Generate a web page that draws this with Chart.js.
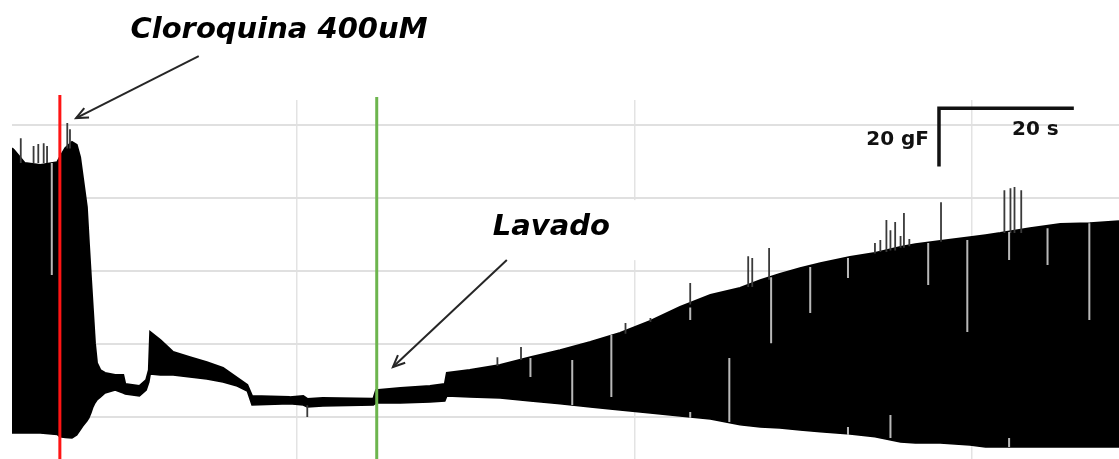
<!DOCTYPE html>
<html>
<head>
<meta charset="utf-8">
<script src="https://cdn.jsdelivr.net/npm/chart.js@4.4.1/dist/chart.umd.min.js"></script>
<style>
  html, body { margin: 0; padding: 0; background: #fff; }
  canvas { display: block; }
</style>
</head>
<body>
<canvas id="trace" width="1119" height="459"></canvas>
<script>
// Isometric contraction recording: force envelope (gF) against time (s)
const timeS = [7.7, 8.0, 9.6, 11.9, 14.4, 14.8, 15.6, 16.6, 17.3, 17.8, 18.2, 18.8, 19.1, 19.4, 19.7, 20.0,
  20.3, 20.8, 21.5, 23.0, 24.2, 24.5, 26.6, 27.6, 28.0, 28.2, 29.7, 31.6, 34.1, 36.6, 39.0, 41.1, 42.6, 43.3,
  48.9, 50.9, 51.5, 53.8, 61.3, 61.7, 65.3, 69.7, 71.9, 72.2, 75.6, 80.1, 84.6, 89.0, 93.5, 97.9, 102.4,
  106.8, 111.3, 115.7, 118.7, 121.6, 124.6, 127.6, 132.0, 135.7, 139.5, 141.7, 145.4, 149.8, 152.1, 154.3,
  158.7, 163.2, 167.6, 171.9];
const forceUpper = [92.1, 91.4, 87.0, 86.3, 87.3, 89.0, 92.1, 94.2, 93.2, 89.0, 82.2, 71.9, 59.6, 47.9, 36.6, 25.3,
  18.5, 16.1, 15.1, 14.4, 14.4, 11.3, 10.6, 12.7, 16.1, 29.1, 26.4, 22.3, 20.5, 18.8, 16.8, 13.4, 11.0, 7.2,
  6.8, 7.2, 6.2, 6.5, 6.2, 9.2, 9.9, 10.6, 11.3, 15.1, 16.1, 17.8, 20.5, 22.9, 25.7, 28.8, 32.9,
  37.7, 41.8, 44.2, 46.9, 49.0, 51.0, 52.7, 54.8, 56.2, 58.2, 59.2, 60.3, 61.6, 62.3, 63.0,
  64.7, 66.1, 66.4, 67.1];
const forceLower = [-5.5, -5.5, -5.5, -5.5, -6.0, -6.8, -7.0, -7.2, -6.2, -4.5, -3.1, -1.4, -0.3, 1.4, 3.4, 4.8,
  5.8, 6.8, 8.2, 9.2, 8.2, 7.9, 7.2, 9.2, 12.0, 14.7, 14.4, 14.4, 13.7, 13.0, 12.0, 10.6, 8.9, 4.1,
  4.5, 4.1, 3.4, 3.8, 4.1, 4.8, 4.8, 5.1, 5.5, 7.2, 6.8, 6.5, 5.5, 4.5, 3.4, 2.4, 1.4,
  0.3, -0.7, -2.7, -3.4, -3.8, -4.5, -5.1, -5.8, -6.8, -8.6, -8.9, -8.9, -9.6, -10.3, -10.3,
  -10.3, -10.3, -10.3, -10.3];

// isolated twitches that overshoot the envelope
const spikeTime = [9.0, 10.9, 11.6, 12.4, 12.9, 15.9, 16.3, 51.5, 79.7, 83.2, 98.7, 102.4, 108.3, 116.9, 117.5,
  120.0, 135.7, 136.5, 137.4, 138.0, 138.7, 139.5, 140.0, 140.8, 145.5, 154.9, 155.8, 156.4, 157.4];
const spikeFrom = [87, 87, 87, 87, 87, 92, 92, 0.0, 17.5, 19.5, 28.5, 32.5, 38.5, 44.5, 44.5,
  47.0, 56.0, 56.5, 56.5, 57.0, 57.0, 58.0, 58.0, 58.5, 60.0, 63.0, 63.0, 63.0, 63.0];
const spikeTo = [95.5, 92.8, 93.5, 93.8, 92.8, 100.7, 98.6, 4.0, 20.5, 24.0, 32.2, 33.9, 45.9, 55.1, 54.5,
  57.9, 59.6, 60.6, 67.5, 64.0, 66.8, 62.0, 69.9, 61.0, 73.6, 77.7, 78.4, 78.8, 77.7];

// missed beats showing as pale streaks inside the envelope
const gapTime = [13.6, 84.6, 90.8, 96.6, 108.3, 108.3, 114.1, 120.3, 126.1, 131.7, 131.7, 138.0, 143.6,
  149.4, 155.6, 155.6, 161.3, 167.5];
const gapFrom = [48.6, 13.7, 4.1, 6.8, -0.3, 33.2, -1.7, 25.3, 35.6, 47.6, -6.2, -7.2, 45.2,
  29.1, 53.8, -10.3, 52.1, 33.2];
const gapTo = [87.0, 20.2, 19.5, 28.1, 1.7, 37.5, 20.2, 47.9, 51.4, 54.5, -3.4, 0.7, 59.6,
  60.6, 63.4, -7.2, 64.7, 66.4];

// drug addition and washout times
const chloroquineTime = 14.8;
const washTime = 61.8;
const markerTop = [110.3, 109.6];

// gridline positions and axis range
const timeGrid = [50, 100, 150];
const forceGrid = [0, 25, 50, 75, 100];
const timeRange = [7.7, 171.9];
const forceRange = [-14.4, 108.6];

// calibration bar
const barTime = 20;   // s
const barForce = 20;  // gF

const toPts = (xs, ys) => xs.map((t, i) => ({ x: t, y: ys[i] }));
const toSegments = (xs, a, b) => xs.flatMap((t, i) => [{ x: t, y: a[i] }, { x: t, y: b[i] }, { x: t, y: null }]);

// label anchors in axis units
const notes = {
  chloroquine: { text: 'Cloroquina 400uM', t: 47.3, g: 129.8, from: [35.4, 123.6], to: [17.2, 102.4] },
  wash: { text: 'Lavado', t: 87.7, g: 62.3, from: [81.1, 53.8], to: [64.2, 17.1] },
  bar: { t: 145.2, g: 105.8 }
};

function drawArrow(ctx, x0, y0, x1, y1) {
  ctx.beginPath();
  ctx.moveTo(x0, y0);
  ctx.lineTo(x1, y1);
  ctx.stroke();
  const a = Math.atan2(y1 - y0, x1 - x0), L = 13, w = 0.42;
  ctx.beginPath();
  ctx.moveTo(x1 - L * Math.cos(a - w), y1 - L * Math.sin(a - w));
  ctx.lineTo(x1, y1);
  ctx.lineTo(x1 - L * Math.cos(a + w), y1 - L * Math.sin(a + w));
  ctx.stroke();
}

const annotations = {
  id: 'annotations',
  afterDatasetsDraw(chart) {
    const { ctx, scales: { x, y } } = chart;
    ctx.save();

    // wash label sits on a white panel
    const w = notes.wash;
    const wx = x.getPixelForValue(w.t), wy = y.getPixelForValue(w.g);
    ctx.fillStyle = '#fff';
    ctx.fillRect(wx - 75, wy - 35, 165, 60);

    ctx.fillStyle = '#000';
    ctx.textAlign = 'center';
    ctx.textBaseline = 'alphabetic';
    ctx.font = 'italic bold 29px "DejaVu Sans"';
    const c = notes.chloroquine;
    ctx.fillText(c.text, x.getPixelForValue(c.t), y.getPixelForValue(c.g));
    ctx.fillText(w.text, wx, wy);

    ctx.strokeStyle = '#262626';
    ctx.lineWidth = 2;
    [c, w].forEach(n => drawArrow(ctx,
      x.getPixelForValue(n.from[0]), y.getPixelForValue(n.from[1]),
      x.getPixelForValue(n.to[0]), y.getPixelForValue(n.to[1])));

    // calibration bar: 20 s horizontal, 20 gF vertical
    const b = notes.bar;
    const bx = x.getPixelForValue(b.t), by = y.getPixelForValue(b.g);
    const bx2 = x.getPixelForValue(b.t + barTime), by2 = y.getPixelForValue(b.g - barForce);
    ctx.strokeStyle = '#111';
    ctx.lineWidth = 3.5;
    ctx.lineJoin = 'miter';
    ctx.beginPath();
    ctx.moveTo(bx, by2);
    ctx.lineTo(bx, by);
    ctx.lineTo(bx2, by);
    ctx.stroke();
    ctx.font = 'bold 20px "DejaVu Sans"';
    ctx.fillStyle = '#111';
    ctx.textAlign = 'right';
    ctx.fillText(barForce + ' gF', bx - 10, by + 37);
    ctx.textAlign = 'left';
    ctx.fillText(barTime + ' s', bx + 73, by + 27);
    ctx.restore();
  }
};

new Chart(document.getElementById('trace'), {
  type: 'line',
  data: {
    datasets: [
      { data: [{ x: chloroquineTime, y: forceRange[0] }, { x: chloroquineTime, y: markerTop[0] }],
        borderColor: '#ff1414', borderWidth: 3, clip: false, order: 0 },
      { data: [{ x: washTime, y: forceRange[0] }, { x: washTime, y: markerTop[1] }],
        borderColor: '#6db54e', borderWidth: 3, clip: false, order: 0 },
      { data: toSegments(gapTime, gapFrom, gapTo), borderColor: '#b8b8b8', borderWidth: 2, spanGaps: false, order: 1 },
      { data: toSegments(spikeTime, spikeFrom, spikeTo), borderColor: '#3a3a3a', borderWidth: 1.8, spanGaps: false, order: 2 },
      { data: toPts(timeS, forceUpper), borderColor: '#000', borderWidth: 2, backgroundColor: '#000',
        fill: '+1', order: 3 },
      { data: toPts(timeS, forceLower), borderColor: '#000', borderWidth: 1.5, order: 4 }
    ]
  },
  options: {
    responsive: false,
    animation: false,
    events: [],
    layout: { padding: { left: 12, top: 100, right: 0, bottom: 0 } },
    elements: { point: { radius: 0 }, line: { tension: 0 } },
    plugins: { legend: { display: false }, tooltip: { enabled: false } },
    scales: {
      x: {
        type: 'linear', min: timeRange[0], max: timeRange[1], offset: false,
        afterBuildTicks: s => { s.ticks = timeGrid.map(v => ({ value: v })); },
        ticks: { display: false },
        border: { display: false },
        grid: { color: '#e3e3e3', lineWidth: 1.5, drawTicks: false }
      },
      y: {
        type: 'linear', min: forceRange[0], max: forceRange[1],
        afterBuildTicks: s => { s.ticks = forceGrid.map(v => ({ value: v })); },
        ticks: { display: false },
        border: { display: false },
        grid: { color: '#e0e0e0', lineWidth: 2, drawTicks: false }
      }
    }
  },
  plugins: [annotations]
});
</script>
</body>
</html>
